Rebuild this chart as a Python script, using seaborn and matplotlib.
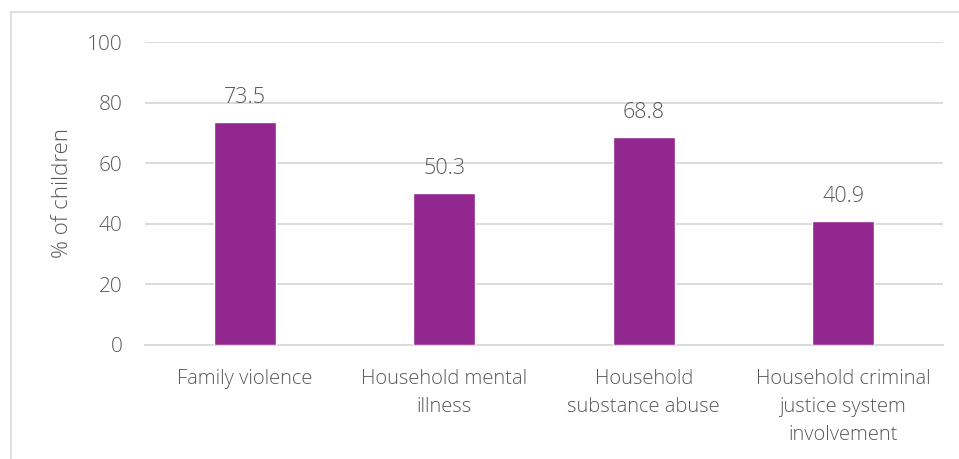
import matplotlib
matplotlib.use("Agg")
import matplotlib.pyplot as plt
from matplotlib.lines import Line2D
import seaborn as sns
import pandas as pd

# data
categories = ["Family violence", "Household mental\nillness",
              "Household\nsubstance abuse",
              "Household criminal\njustice system\ninvolvement"]
values = [73.5, 50.3, 68.8, 40.9]
y_ticks = [0, 20, 40, 60, 80, 100]

bar_color = "#92278F"
text_color = "#595959"
grid_color = "#D9D9D9"

sns.set_theme(style="white")
plt.rcParams["font.family"] = ["Open Sans", "DejaVu Sans"]
plt.rcParams["font.weight"] = "light"

df = pd.DataFrame({"category": categories, "value": values})

fig = plt.figure(figsize=(9.59, 4.59), dpi=100)
ax = fig.add_axes([145 / 959, 1 - 345 / 459, 798 / 959, 303 / 459])

sns.barplot(data=df, x="category", y="value", color=bar_color,
            saturation=1, width=0.31, ax=ax, zorder=3)

ax.set_ylim(0, 100)
ax.set_yticks(y_ticks)
ax.yaxis.grid(True, color=grid_color, linewidth=1.3, zorder=0)
ax.set_axisbelow(True)
for s in ["top", "right", "left"]:
    ax.spines[s].set_visible(False)
ax.spines["bottom"].set_color(grid_color)
ax.spines["bottom"].set_linewidth(1.3)
ax.tick_params(axis="x", length=0, labelsize=14.5, colors=text_color, pad=17)
ax.tick_params(axis="y", length=0, labelsize=15, colors=text_color, pad=16)
for lbl in ax.get_xticklabels():
    lbl.set_linespacing(1.55)

ax.set_xlabel("")
ax.set_ylabel("% of children", fontsize=16, color=text_color, labelpad=10,
              fontweight="light")

for bars in ax.containers:
    ax.bar_label(bars, fmt="%.1f", padding=10, fontsize=15.5, color=text_color)

# chart border (top and left)
fig.add_artist(Line2D([11 / 959, 1], [1 - 12 / 459, 1 - 12 / 459],
                      transform=fig.transFigure, color="#D9D9D9", linewidth=1.2))
fig.add_artist(Line2D([11 / 959, 11 / 959], [0, 1 - 12 / 459],
                      transform=fig.transFigure, color="#D9D9D9", linewidth=1.2))

fig.savefig("out.png", dpi=100, facecolor="white")
plt.close(fig)
